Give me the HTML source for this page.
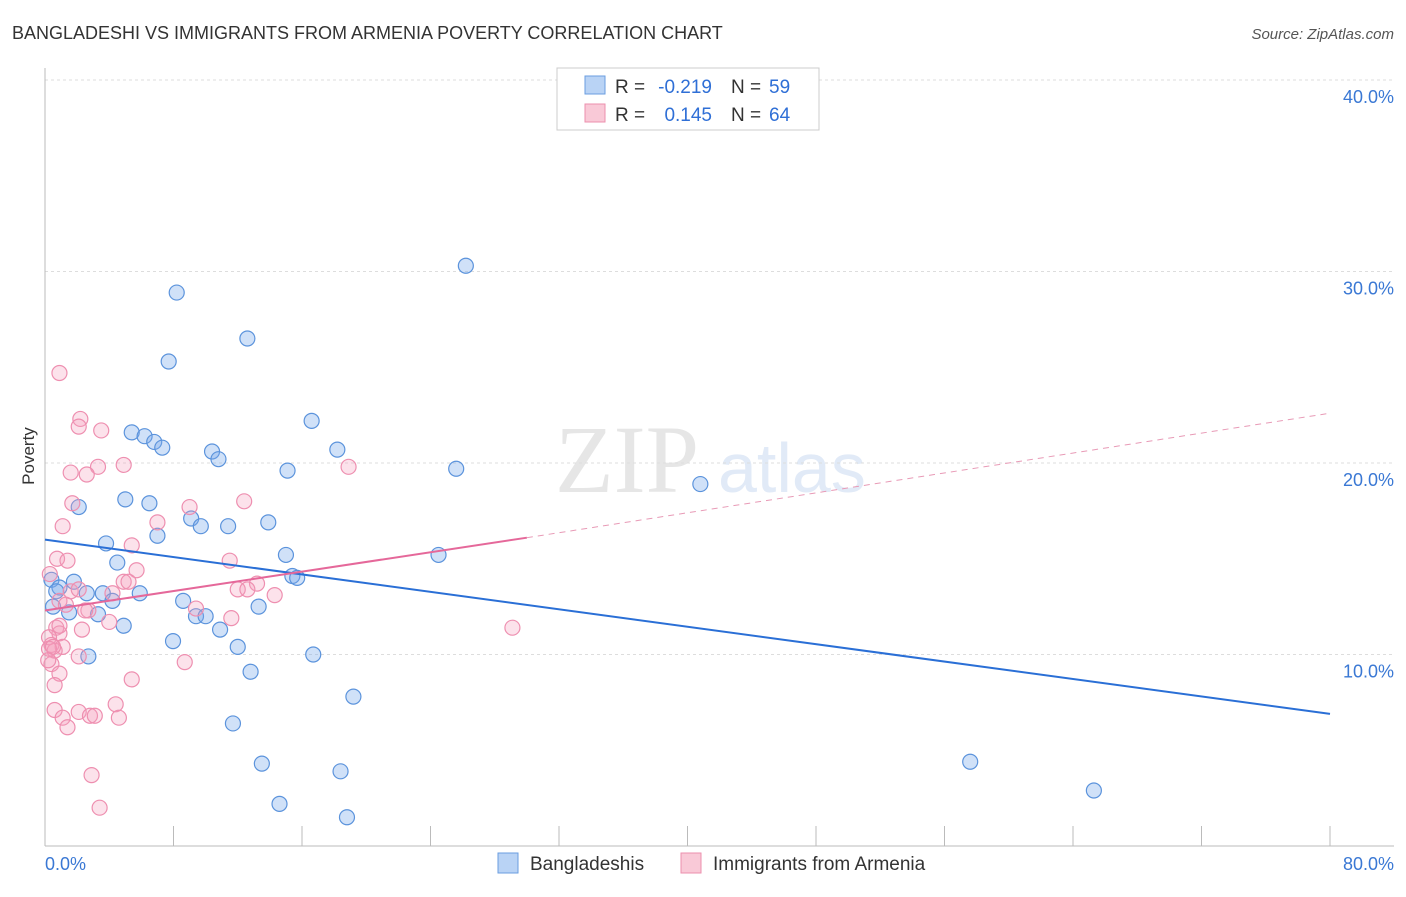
<!DOCTYPE html>
<html><head><meta charset="utf-8"><style>
body{margin:0;background:#fff;font-family:"Liberation Sans",sans-serif}
</style></head><body>
<svg id="c" width="1406" height="892" xmlns="http://www.w3.org/2000/svg" style="font-family:'Liberation Sans',sans-serif">
<text x="12" y="39" font-size="18" fill="#333">BANGLADESHI VS IMMIGRANTS FROM ARMENIA POVERTY CORRELATION CHART</text>
<text x="1394" y="39" font-size="15" fill="#555" font-style="italic" text-anchor="end">Source: ZipAtlas.com</text>
<text x="34" y="456" font-size="17" fill="#333" transform="rotate(-90 34 456)" text-anchor="middle">Poverty</text>
<text x="555" y="492" font-size="96" fill="#e6e6e6" font-family="Liberation Serif">ZIP</text>
<text x="718" y="492" font-size="70" fill="#e1eaf7">atlas</text>
<g id="grid"></g><g id="marks"></g>
<g>
<rect x="557" y="68" width="262" height="62" fill="#fff" stroke="#ccc"/>
<rect x="585" y="76" width="20" height="18" fill="#b9d3f5" stroke="#6a9ee0"/>
<rect x="585" y="104" width="20" height="18" fill="#f9c9d7" stroke="#ec8fae"/>
<text x="615" y="93" font-size="19" fill="#333">R =</text>
<text x="712" y="93" font-size="19" fill="#2f6fd6" text-anchor="end">-0.219</text>
<text x="731" y="93" font-size="19" fill="#333">N =</text>
<text x="769" y="93" font-size="19" fill="#2f6fd6">59</text>
<text x="615" y="121" font-size="19" fill="#333">R =</text>
<text x="712" y="121" font-size="19" fill="#2f6fd6" text-anchor="end">0.145</text>
<text x="731" y="121" font-size="19" fill="#333">N =</text>
<text x="769" y="121" font-size="19" fill="#2f6fd6">64</text>
</g>
<g>
<rect x="498" y="853" width="20" height="20" fill="#b9d3f5" stroke="#6a9ee0"/>
<text x="530" y="870" font-size="19" fill="#333">Bangladeshis</text>
<rect x="681" y="853" width="20" height="20" fill="#f9c9d7" stroke="#ec8fae"/>
<text x="713" y="870" font-size="19" fill="#333">Immigrants from Armenia</text>
</g>
</svg>
<script>
const yTicks=[10,20,30,40];
const xTickLabels=["0.0%","80.0%"];
const blueX=[26.2,8.2,12.6,7.7,16.6,5.4,6.2,6.8,7.3,10.4,18.2,10.8,15.1,25.6,40.8,5.0,6.5,2.1,9.1,9.7,11.4,13.9,7.0,3.8,24.5,15.0,4.5,0.4,1.8,0.9,0.7,2.6,3.6,5.9,4.2,8.6,15.4,15.7,0.5,13.3,1.5,3.3,9.4,10.0,4.9,10.9,7.97,12.0,16.7,2.7,12.8,19.2,11.7,13.5,18.4,57.6,14.6,65.3,18.8];
const blueY=[30.3,28.9,26.5,25.3,22.2,21.6,21.4,21.1,20.8,20.6,20.7,20.2,19.6,19.7,18.9,18.1,17.9,17.7,17.1,16.7,16.7,16.9,16.2,15.8,15.2,15.2,14.8,13.9,13.8,13.5,13.3,13.2,13.2,13.2,12.8,12.8,14.1,14.0,12.5,12.5,12.2,12.1,12.0,12.0,11.5,11.3,10.7,10.4,10.0,9.9,9.1,7.8,6.4,4.3,3.9,4.4,2.2,2.9,1.5];
const pinkX=[0.9,2.2,2.1,3.5,4.9,3.3,1.6,2.6,18.9,1.7,9.0,12.4,1.1,7.0,5.4,0.75,1.4,11.5,5.7,0.3,4.9,5.2,13.2,12.0,12.6,14.3,1.6,2.1,0.9,4.2,1.3,2.7,9.4,2.5,11.6,4.0,29.1,0.7,2.3,0.9,0.25,0.4,1.1,0.6,0.25,2.1,8.7,0.4,0.9,0.6,5.4,0.6,4.4,2.1,1.1,2.8,1.4,4.6,2.9,3.4,0.5,0.2,0.9,3.1];
const pinkY=[24.7,22.3,21.9,21.7,19.9,19.8,19.5,19.4,19.8,17.9,17.7,18.0,16.7,16.9,15.7,15.0,14.9,14.9,14.4,14.2,13.8,13.8,13.7,13.4,13.4,13.1,13.3,13.4,12.8,13.2,12.6,12.3,12.4,12.3,11.9,11.7,11.4,11.4,11.3,11.1,10.9,10.5,10.4,10.2,10.3,9.9,9.6,9.5,9.0,8.4,8.7,7.1,7.4,7.0,6.7,6.8,6.2,6.7,3.7,2.0,10.4,9.7,11.5,6.8];
const X=v=>45+v/80*1285, Y=v=>846-v*19.15;
const ns="http://www.w3.org/2000/svg";
function mk(t,a,p){const e=document.createElementNS(ns,t);for(const k in a)e.setAttribute(k,a[k]);p.appendChild(e);return e;}
const g=document.getElementById('grid'), m=document.getElementById('marks');
yTicks.forEach(t=>{const l=mk('line',{x1:45,x2:1394,y1:Y(t),y2:Y(t),stroke:'#ddd','stroke-dasharray':'3,3'},g);


const tx=mk('text',{x:1394,y:Y(t)+23,'font-size':18,fill:'#3a78d4','text-anchor':'end'},g);tx.textContent=t.toFixed(1)+'%';

});
const ax=mk('line',{x1:45,x2:1394,y1:846,y2:846,stroke:'#bbb'},g);


const ay=mk('line',{x1:45,x2:45,y1:68,y2:846,stroke:'#bbb'},g);


for(let i=0;i<=10;i++){const t=mk('line',{x1:X(i*8),x2:X(i*8),y1:846,y2:826,stroke:'#bbb'},g);

}
[[0,'start',45],[80,'end',1394]].forEach((d,i)=>{const t=mk('text',{x:d[2],y:870,'font-size':18,fill:'#3a78d4','text-anchor':d[1]},g);t.textContent=xTickLabels[i];

});
blueX.forEach((x,i)=>{const c=mk('circle',{cx:X(x),cy:Y(blueY[i]),r:7.5,fill:'rgba(120,170,235,0.35)',stroke:'#5b93dc','stroke-width':1.2},m);

});
pinkX.forEach((x,i)=>{const c=mk('circle',{cx:X(x),cy:Y(pinkY[i]),r:7.5,fill:'rgba(245,160,190,0.3)',stroke:'#ee8fb0','stroke-width':1.2},m);

});
const bl=mk('line',{x1:X(0),y1:Y(16.0),x2:X(80),y2:Y(6.9),stroke:'#2a6fd6','stroke-width':2},m);


const pl=mk('line',{x1:X(0),y1:Y(12.3),x2:X(30),y2:Y(16.1),stroke:'#e5689a','stroke-width':2},m);


const pd=mk('line',{x1:X(30),y1:Y(16.1),x2:X(80),y2:Y(22.6),stroke:'#e89ab6','stroke-width':1,'stroke-dasharray':'6,5'},m);


</script>
</body></html>
